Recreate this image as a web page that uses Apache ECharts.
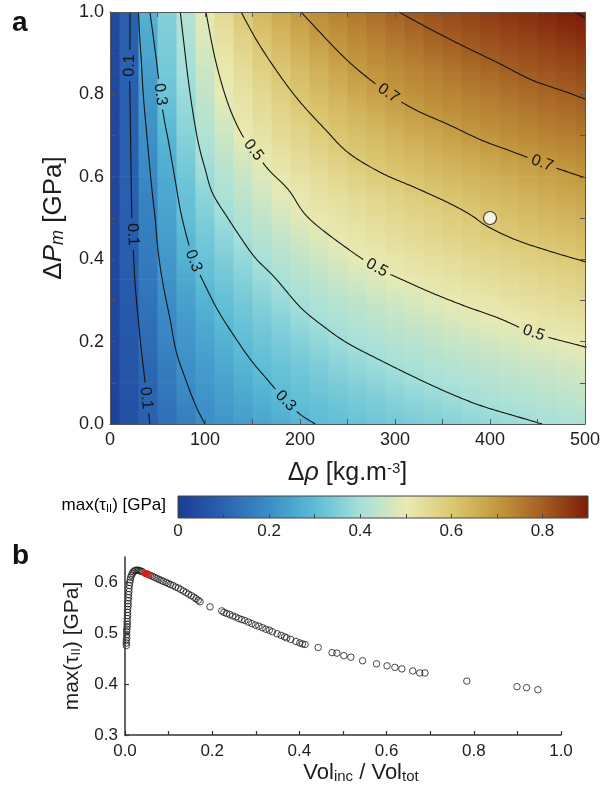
<!DOCTYPE html>
<html>
<head>
<meta charset="utf-8">
<script src="https://cdn.jsdelivr.net/npm/echarts@6/dist/echarts.min.js"></script>
<style>
  html, body { margin: 0; padding: 0; background: #fff; }
  #chart { width: 600px; height: 794px; }
</style>
</head>
<body>
<div id="chart"></div>
<script>
// ---- Panel a: stress field over density contrast and pressure ----
const rhoNodes = [0, 20, 40, 60, 80, 100, 120, 140, 160, 180, 200, 220, 240, 260, 280, 300, 320, 340, 360, 380, 400, 420, 440, 460, 480, 500];
const pressureNodes = [0, 0.05, 0.1, 0.15, 0.2, 0.25, 0.3, 0.35, 0.4, 0.45, 0.5, 0.55, 0.6, 0.65, 0.7, 0.75, 0.8, 0.85, 0.9, 0.95, 1.0];

// max(tau_II) [GPa], one row per pressure node (bottom to top), one column per density node
const tauRows = [
  [0.020,0.058,0.096,0.131,0.166,0.200,0.217,0.234,0.252,0.269,0.286,0.302,0.310,0.318,0.327,0.335,0.344,0.352,0.360,0.369,0.377,0.385,0.394,0.401,0.406,0.410],
  [0.020,0.061,0.102,0.142,0.182,0.211,0.231,0.250,0.270,0.290,0.305,0.315,0.325,0.335,0.345,0.355,0.365,0.375,0.385,0.395,0.403,0.410,0.416,0.422,0.429,0.435],
  [0.025,0.066,0.107,0.153,0.200,0.223,0.245,0.268,0.291,0.307,0.319,0.332,0.344,0.356,0.368,0.380,0.392,0.402,0.409,0.415,0.422,0.429,0.435,0.442,0.448,0.455],
  [0.025,0.069,0.115,0.167,0.209,0.235,0.261,0.287,0.307,0.322,0.336,0.351,0.366,0.380,0.395,0.405,0.412,0.419,0.427,0.434,0.441,0.449,0.456,0.463,0.471,0.478],
  [0.030,0.075,0.125,0.181,0.219,0.249,0.279,0.305,0.323,0.340,0.357,0.375,0.392,0.405,0.413,0.422,0.431,0.439,0.448,0.457,0.465,0.474,0.483,0.491,0.500,0.505],
  [0.030,0.078,0.132,0.191,0.229,0.264,0.298,0.319,0.340,0.360,0.381,0.401,0.411,0.421,0.432,0.442,0.453,0.463,0.474,0.484,0.495,0.503,0.510,0.517,0.523,0.530],
  [0.030,0.080,0.139,0.202,0.242,0.282,0.313,0.336,0.360,0.384,0.404,0.416,0.428,0.440,0.453,0.465,0.477,0.490,0.501,0.509,0.516,0.523,0.531,0.538,0.546,0.553],
  [0.030,0.084,0.148,0.212,0.258,0.303,0.330,0.357,0.384,0.406,0.421,0.436,0.451,0.466,0.481,0.496,0.506,0.514,0.522,0.530,0.538,0.546,0.554,0.562,0.570,0.578],
  [0.030,0.086,0.156,0.222,0.278,0.318,0.348,0.379,0.405,0.423,0.441,0.459,0.477,0.495,0.506,0.515,0.524,0.533,0.542,0.550,0.559,0.568,0.577,0.586,0.595,0.602],
  [0.030,0.088,0.164,0.233,0.294,0.332,0.368,0.402,0.422,0.443,0.463,0.484,0.502,0.513,0.523,0.534,0.544,0.555,0.566,0.576,0.587,0.597,0.605,0.613,0.620,0.627],
  [0.030,0.091,0.171,0.245,0.308,0.350,0.392,0.419,0.442,0.466,0.489,0.506,0.518,0.529,0.540,0.551,0.563,0.574,0.585,0.597,0.606,0.615,0.624,0.632,0.641,0.650],
  [0.030,0.092,0.178,0.254,0.318,0.368,0.409,0.436,0.462,0.488,0.507,0.520,0.533,0.546,0.558,0.571,0.584,0.597,0.607,0.617,0.627,0.636,0.646,0.656,0.665,0.675],
  [0.030,0.094,0.190,0.264,0.329,0.388,0.423,0.452,0.481,0.506,0.523,0.539,0.556,0.573,0.589,0.603,0.613,0.623,0.633,0.643,0.652,0.662,0.672,0.682,0.692,0.700],
  [0.030,0.094,0.200,0.277,0.344,0.404,0.439,0.474,0.505,0.524,0.543,0.562,0.581,0.600,0.611,0.623,0.634,0.646,0.657,0.669,0.680,0.691,0.702,0.710,0.719,0.727],
  [0.030,0.095,0.208,0.292,0.360,0.417,0.458,0.500,0.521,0.543,0.564,0.585,0.604,0.618,0.631,0.645,0.659,0.672,0.686,0.699,0.709,0.718,0.727,0.737,0.746,0.755],
  [0.030,0.097,0.214,0.307,0.373,0.429,0.476,0.512,0.537,0.561,0.585,0.607,0.623,0.639,0.655,0.672,0.688,0.702,0.712,0.722,0.732,0.741,0.751,0.761,0.770,0.780],
  [0.030,0.097,0.228,0.323,0.387,0.442,0.495,0.525,0.553,0.581,0.606,0.626,0.645,0.665,0.685,0.703,0.713,0.724,0.734,0.745,0.755,0.766,0.776,0.787,0.797,0.805],
  [0.035,0.097,0.238,0.332,0.397,0.454,0.506,0.539,0.571,0.602,0.624,0.647,0.669,0.691,0.707,0.720,0.732,0.744,0.757,0.769,0.781,0.794,0.804,0.813,0.821,0.830],
  [0.035,0.097,0.253,0.342,0.406,0.469,0.519,0.557,0.594,0.621,0.646,0.671,0.696,0.712,0.727,0.742,0.756,0.771,0.785,0.800,0.809,0.818,0.826,0.835,0.844,0.853],
  [0.035,0.097,0.264,0.348,0.414,0.483,0.533,0.578,0.614,0.642,0.670,0.699,0.716,0.733,0.750,0.766,0.783,0.800,0.810,0.820,0.830,0.840,0.850,0.860,0.870,0.880],
  [0.035,0.096,0.283,0.356,0.422,0.496,0.551,0.603,0.635,0.667,0.698,0.718,0.738,0.757,0.777,0.796,0.809,0.819,0.830,0.841,0.852,0.862,0.873,0.884,0.895,0.905]
];

// Iso-stress lines [delta rho, delta P]
const contourLevels = [0.1, 0.2, 0.3, 0.4, 0.5, 0.6, 0.7, 0.8, 0.9];
const contour01 = [[21,1.0],[21,0.93],[20.5,0.87],[21,0.80],[21.5,0.72],[22,0.64],[22.5,0.56],[23,0.50],[24,0.45],[25,0.40],[26.4,0.34],[29.5,0.26],[33,0.18],[37,0.10],[39.5,0.05],[42,0.0]];
const contour02 = [[30,1.0],[31,0.95],[33,0.88],[35,0.80],[38,0.72],[42,0.62],[45,0.55],[47.5,0.50],[50.6,0.42],[56,0.337],[63,0.257],[69.6,0.177],[79,0.112],[90,0.046],[100,0.0]];
const contour03 = [[42,1.0],[45,0.95],[49,0.88],[53,0.80],[57,0.74],[62,0.68],[68,0.60],[74,0.52],[79,0.47],[84,0.427],[88,0.396],[100,0.337],[114,0.274],[132,0.209],[149,0.153],[167,0.104],[185,0.056],[201,0.022],[216,0.0]];
const contour04 = [[74,1.0],[78,0.92],[82,0.842],[87,0.76],[93,0.682],[100,0.62],[108,0.56],[124,0.50],[138,0.451],[153,0.403],[174,0.354],[201,0.282],[227,0.233],[251,0.195],[286,0.153],[322,0.112],[357,0.075],[391,0.044],[427,0.019],[455,0.0]];
const contour05 = [[101,1.0],[111,0.883],[124,0.779],[138,0.706],[151,0.665],[167,0.617],[188,0.568],[209,0.50],[251,0.424],[281,0.379],[304,0.354],[339,0.318],[374,0.286],[409,0.257],[446,0.221],[497,0.189],[500,0.187]];
const contour06 = [[138,1.0],[156,0.925],[180,0.842],[201,0.779],[227,0.714],[251,0.658],[286,0.609],[322,0.573],[357,0.536],[380,0.507],[397,0.48],[427,0.447],[462,0.42],[497,0.396],[500,0.394]];
const contour07 = [[201,1.0],[251,0.88],[293,0.803],[322,0.762],[357,0.726],[391,0.689],[427,0.658],[455,0.633],[497,0.60],[500,0.598]];
const contour08 = [[304,1.0],[339,0.956],[374,0.915],[409,0.876],[444,0.835],[480,0.806],[500,0.789]];
const contour09 = [[490,1.0],[500,0.985]];

// Where the level values are written along the lines
const labels01 = [[20.5,0.87],[24,0.46],[38,0.063]];
const labels03 = [[53,0.80],[88,0.396],[185,0.056]];
const labels05 = [[151,0.665],[281,0.379],[446,0.221]];
const labels07 = [[293,0.803],[455,0.633]];

// Reference case
const referenceCase = [[400, 0.5]];

// Colour scale stops for 0, 0.1, ... 0.9 GPa
const colorScale = ['#1b3b95','#2a62b0','#3b8dc6','#5bbcd6','#a5e0da','#e9eab2','#dcc873','#c3993f','#a45e22','#7d1b08'];
const colorMin = 0, colorMax = 0.9;

// ---- Panel b: peak stress against inclusion volume fraction ----
const stressPoints = [
  [0.003,0.476],[0.003,0.481],[0.003,0.486],[0.004,0.491],[0.004,0.497],[0.004,0.503],[0.004,0.508],[0.005,0.513],
  [0.005,0.518],[0.005,0.523],[0.005,0.529],[0.006,0.535],[0.006,0.541],[0.006,0.547],[0.007,0.553],[0.007,0.558],
  [0.007,0.564],[0.008,0.570],[0.008,0.576],[0.009,0.582],[0.009,0.588],[0.010,0.594],[0.011,0.600],[0.012,0.605],
  [0.013,0.610],[0.015,0.614],[0.017,0.618],[0.019,0.621],[0.022,0.623],[0.025,0.624],[0.028,0.624],[0.031,0.624],
  [0.034,0.623],[0.037,0.622],[0.040,0.621],[0.058,0.614],[0.063,0.612],[0.068,0.610],[0.073,0.608],[0.078,0.606],
  [0.083,0.604],[0.088,0.602],[0.094,0.600],[0.099,0.598],[0.104,0.596],[0.110,0.594],[0.116,0.591],[0.122,0.589],
  [0.128,0.586],[0.134,0.583],[0.140,0.580],[0.146,0.577],[0.152,0.574],[0.158,0.571],[0.163,0.568],[0.168,0.565],
  [0.172,0.562],[0.195,0.552],[0.222,0.544],[0.227,0.541],[0.233,0.539],[0.240,0.537],[0.247,0.534],[0.254,0.532],
  [0.261,0.529],[0.268,0.527],[0.275,0.525],[0.283,0.522],[0.291,0.519],[0.299,0.516],[0.307,0.514],[0.315,0.511],
  [0.323,0.508],[0.331,0.506],[0.338,0.503],[0.349,0.499],[0.358,0.496],[0.366,0.493],[0.371,0.491],[0.380,0.488],
  [0.392,0.484],[0.401,0.481],[0.407,0.479],[0.413,0.478],[0.443,0.472],[0.475,0.462],[0.486,0.461],[0.502,0.456],
  [0.518,0.453],[0.545,0.446],[0.577,0.440],[0.601,0.436],[0.619,0.433],[0.635,0.430],[0.660,0.426],[0.676,0.422],
  [0.688,0.422],[0.784,0.406],[0.899,0.395],[0.921,0.393],[0.947,0.389]
];
const highlightPoints = [[0.046,0.618],[0.050,0.617],[0.054,0.615]];

// ---------------------------------------------------------------------
const FONT = '"Liberation Sans", Arial, Helvetica, sans-serif';
const INK = '#1e1e1e';

// colour of a stress value on the shared colour scale
const stressColor = v => echarts.color.lerp(
  Math.min(1, Math.max(0, (v - colorMin) / (colorMax - colorMin))), colorScale);

// One column strip per density node and pressure interval, shaded from its lower to its upper value
const cellData = [];
const halfStep = (rhoNodes[1] - rhoNodes[0]) / 2;
rhoNodes.forEach((rho, j) => {
  for (let i = 0; i < pressureNodes.length - 1; i++) {
    cellData.push([rho, pressureNodes[i], pressureNodes[i + 1], tauRows[i][j], tauRows[i + 1][j]]);
  }
});

function renderCell(params, api) {
  const rho = api.value(0);
  const lo = api.coord([rho - halfStep, api.value(1)]);
  const hi = api.coord([rho + halfStep, api.value(2)]);
  const cs = params.coordSys;
  const x0 = Math.max(lo[0], cs.x);
  const x1 = Math.min(hi[0] + 0.6, cs.x + cs.width);
  const y0 = Math.max(hi[1] - 0.6, cs.y);
  const y1 = Math.min(lo[1], cs.y + cs.height);
  return { type: 'rect', shape: { x: x0, y: y0, width: x1 - x0, height: y1 - y0 },
    style: { fill: new echarts.graphic.LinearGradient(0, 1, 0, 0, [
      { offset: 0, color: stressColor(api.value(3)) },
      { offset: 1, color: stressColor(api.value(4)) }]) } };
}

const contourSet = [
  { level: contourLevels[0], pts: contour01, labels: labels01 },
  { level: contourLevels[1], pts: contour02, labels: [] },
  { level: contourLevels[2], pts: contour03, labels: labels03 },
  { level: contourLevels[3], pts: contour04, labels: [] },
  { level: contourLevels[4], pts: contour05, labels: labels05 },
  { level: contourLevels[5], pts: contour06, labels: [] },
  { level: contourLevels[6], pts: contour07, labels: labels07 },
  { level: contourLevels[7], pts: contour08, labels: [] },
  { level: contourLevels[8], pts: contour09, labels: [] }
];

// Catmull-Rom curve through the pixel points, sampled about every 1.5 px
function smoothPath(p) {
  if (p.length < 3) return p.slice();
  const out = [];
  for (let i = 0; i < p.length - 1; i++) {
    const p0 = p[Math.max(0, i - 1)], p1 = p[i], p2 = p[i + 1], p3 = p[Math.min(p.length - 1, i + 2)];
    const n = Math.max(2, Math.ceil(Math.hypot(p2[0] - p1[0], p2[1] - p1[1]) / 1.5));
    for (let k = 0; k < n; k++) {
      const t = k / n, t2 = t * t, t3 = t2 * t;
      const f = (a, b, c, d) => 0.5 * (2 * b + (-a + c) * t + (2 * a - 5 * b + 4 * c - d) * t2 + (-a + 3 * b - 3 * c + d) * t3);
      out.push([f(p0[0], p1[0], p2[0], p3[0]), f(p0[1], p1[1], p2[1], p3[1])]);
    }
  }
  out.push(p[p.length - 1]);
  return out;
}

function renderContour(params, api) {
  const item = contourSet[params.dataIndex];
  const path = smoothPath(item.pts.map(p => api.coord(p)));
  const marks = item.labels.map(p => api.coord(p));
  const gap = 15;
  const children = [];
  let run = [];
  const flush = () => {
    if (run.length > 1) children.push({ type: 'polyline', shape: { points: run },
      style: { stroke: '#141414', lineWidth: 1.1, fill: null } });
    run = [];
  };
  path.forEach(pt => {
    const hidden = marks.some(m => Math.hypot(pt[0] - m[0], pt[1] - m[1]) < gap);
    if (hidden) flush(); else run.push(pt);
  });
  flush();
  marks.forEach(m => {
    let bi = 0, bd = Infinity;
    path.forEach((p, i) => { const d = Math.hypot(p[0] - m[0], p[1] - m[1]); if (d < bd) { bd = d; bi = i; } });
    const a = path[Math.max(0, bi - 8)], b = path[Math.min(path.length - 1, bi + 8)];
    let ang = Math.atan2(b[1] - a[1], b[0] - a[0]);
    if (ang > Math.PI / 2 + 1e-6) ang -= Math.PI;
    if (ang <= -Math.PI / 2) ang += Math.PI;
    children.push({ type: 'text', x: m[0], y: m[1], rotation: -ang,
      style: { text: item.level.toFixed(1), fill: '#141414', font: '16px ' + FONT,
               align: 'center', verticalAlign: 'middle' } });
  });
  return { type: 'group', children };
}

function renderColorBar(params, api) {
  const a = api.coord([colorMin, 0]);
  const b = api.coord([colorMax, 1]);
  const stops = colorScale.map((c, i) => ({ offset: i / (colorScale.length - 1), color: c }));
  return { type: 'rect',
    shape: { x: a[0], y: b[1], width: b[0] - a[0], height: a[1] - b[1] },
    style: { fill: new echarts.graphic.LinearGradient(0, 0, 1, 0, stops), stroke: '#444', lineWidth: 1 } };
}

const tickStyle = { color: '#555', width: 1 };
const labelA = { fontSize: 18, color: INK, fontFamily: FONT };
const labelB = { fontSize: 17, color: INK, fontFamily: FONT };
const labelBar = { fontSize: 17, color: INK, fontFamily: FONT };
const richBase = (size, sub) => ({
  n: { fontSize: size, fontFamily: FONT, color: INK },
  i: { fontSize: size, fontFamily: FONT, color: INK, fontStyle: 'italic' },
  sup: { fontSize: Math.round(size * 0.6), fontFamily: FONT, color: INK, verticalAlign: 'top' },
  sub: { fontSize: Math.round(size * (sub || 0.62)), fontFamily: FONT, color: INK, verticalAlign: 'bottom' },
  isub: { fontSize: Math.round(size * 0.68), fontFamily: FONT, color: INK, fontStyle: 'italic', verticalAlign: 'bottom' }
});

const chart = echarts.init(document.getElementById('chart'), null, { renderer: 'canvas' });

chart.setOption({
  animation: false,
  backgroundColor: '#ffffff',
  grid: [
    { left: 110, top: 12, width: 475, height: 412, outerBoundsMode: 'none' },
    { left: 178, top: 496, width: 410, height: 22, outerBoundsMode: 'none' },
    { left: 125, top: 557, width: 436, height: 178, outerBoundsMode: 'none' }
  ],
  xAxis: [
    { gridIndex: 0, type: 'value', min: 0, max: 500, interval: 100, position: 'bottom', z: 10,
      axisLine: { show: true, onZero: false, lineStyle: tickStyle },
      axisTick: { show: true, inside: true, length: 5, lineStyle: tickStyle },
      minorTick: { show: true, splitNumber: 2, length: 5, lineStyle: tickStyle },
      splitLine: { show: false }, minorSplitLine: { show: false },
      axisLabel: Object.assign({ margin: 7 }, labelA),
      name: '{n|Δ}{i|ρ}{n| [kg.m}{sup|-3}{n|]}', nameLocation: 'middle', nameGap: 37,
      nameTextStyle: { rich: richBase(25) } },
    { gridIndex: 0, type: 'value', min: 0, max: 500, interval: 100, position: 'top', z: 10,
      axisLine: { show: true, onZero: false, lineStyle: tickStyle },
      axisTick: { show: true, inside: true, length: 5, lineStyle: tickStyle },
      minorTick: { show: true, splitNumber: 2, length: 5, lineStyle: tickStyle },
      splitLine: { show: false }, axisLabel: { show: false } },
    { gridIndex: 1, type: 'value', min: colorMin, max: colorMax, interval: 0.1, position: 'bottom', z: 10,
      axisLine: { show: false },
      axisTick: { show: true, inside: true, length: 4, lineStyle: { color: '#444', width: 1 } },
      splitLine: { show: false },
      axisLabel: Object.assign({ margin: 5, showMaxLabel: false,
        formatter: v => (Math.round(v * 10) % 2 === 0 ? (v === 0 ? '0' : v.toFixed(1)) : '') }, labelBar) },
    { gridIndex: 2, type: 'value', min: 0, max: 1, interval: 0.2, position: 'bottom', z: 10,
      axisLine: { show: true, onZero: false, lineStyle: { color: '#333', width: 1.5 } },
      axisTick: { show: true, inside: true, length: 4, lineStyle: { color: '#333', width: 1.2 } },
      minorTick: { show: true, splitNumber: 2, length: 4, lineStyle: { color: '#333', width: 1.2 } },
      splitLine: { show: false },
      axisLabel: Object.assign({ margin: 8, formatter: v => v.toFixed(1) }, labelB),
      name: '{n|Vol}{sub|inc}{n| / Vol}{sub|tot}', nameLocation: 'middle', nameGap: 27,
      nameTextStyle: { padding: [0, 0, 0, 36], rich: richBase(22, 0.68) } }
  ],
  yAxis: [
    { gridIndex: 0, type: 'value', min: 0, max: 1, interval: 0.2, position: 'left', z: 10,
      axisLine: { show: true, onZero: false, lineStyle: tickStyle },
      axisTick: { show: true, inside: true, length: 5, lineStyle: tickStyle },
      minorTick: { show: true, splitNumber: 2, length: 5, lineStyle: tickStyle },
      splitLine: { show: false }, minorSplitLine: { show: false },
      axisLabel: Object.assign({ margin: 6, formatter: v => v.toFixed(1) }, labelA),
      name: '{n|Δ}{i|P}{isub|m}{n| [GPa]}', nameLocation: 'middle', nameGap: 43,
      nameTextStyle: { rich: richBase(26) } },
    { gridIndex: 0, type: 'value', min: 0, max: 1, interval: 0.2, position: 'right', z: 10,
      axisLine: { show: true, onZero: false, lineStyle: tickStyle },
      axisTick: { show: true, inside: true, length: 5, lineStyle: tickStyle },
      minorTick: { show: true, splitNumber: 2, length: 5, lineStyle: tickStyle },
      splitLine: { show: false }, axisLabel: { show: false } },
    { gridIndex: 1, type: 'value', min: 0, max: 1, show: false },
    { gridIndex: 2, type: 'value', min: 0.3, max: 0.65, interval: 0.1, position: 'left', z: 10,
      axisLine: { show: true, onZero: false, lineStyle: { color: '#333', width: 1.5 } },
      axisTick: { show: true, inside: true, length: 4, lineStyle: { color: '#333', width: 1.2 } },
      splitLine: { show: false },
      axisLabel: Object.assign({ margin: 7, showMaxLabel: false, formatter: v => v.toFixed(1) }, labelB),
      name: '{n|max(τ}{sub|II}{n|) [GPa]}', nameLocation: 'middle', nameGap: 42,
      nameTextStyle: { rich: richBase(21) } }
  ],
  graphic: [
    { type: 'text', left: 12, top: 9, style: { text: 'a', font: 'bold 28px ' + FONT, fill: '#111' } },
    { type: 'text', left: 12, top: 542, style: { text: 'b', font: 'bold 28px ' + FONT, fill: '#111' } },
    { type: 'text', right: 600 - 166, top: 497,
      style: { text: '{n|max(τ}{sub|II}{n|) [GPa]}', rich: richBase(17) } }
  ],
  series: [
    { type: 'custom', name: 'stress field', xAxisIndex: 0, yAxisIndex: 0,
      renderItem: renderCell, data: cellData, encode: { x: 0, y: [1, 2] }, silent: true, z: 1 },
    { type: 'custom', name: 'iso-stress', xAxisIndex: 0, yAxisIndex: 0,
      renderItem: renderContour, data: contourSet.map(c => [c.pts[0][0], c.pts[0][1], c.level]),
      encode: { x: 0, y: 1 }, silent: true, z: 3 },
    { type: 'scatter', name: 'reference case', xAxisIndex: 0, yAxisIndex: 0, data: referenceCase,
      symbol: 'circle', symbolSize: 13, z: 5,
      itemStyle: { color: '#ffffff', borderColor: '#1a1a1a', borderWidth: 1.2 } },
    { type: 'custom', name: 'colour bar', xAxisIndex: 2, yAxisIndex: 2,
      renderItem: renderColorBar, data: [[colorMin, 0]], silent: true, z: 1 },
    { type: 'scatter', name: 'models', xAxisIndex: 3, yAxisIndex: 3, data: stressPoints,
      symbol: 'circle', symbolSize: 6.5, z: 3,
      itemStyle: { color: 'rgba(255,255,255,0)', borderColor: '#1a1a1a', borderWidth: 1 } },
    { type: 'scatter', name: 'reference case b', xAxisIndex: 3, yAxisIndex: 3, data: highlightPoints,
      symbol: 'circle', symbolSize: 6.5, z: 4,
      itemStyle: { color: '#d6231e', borderColor: '#c81a16', borderWidth: 1 } }
  ]
});
</script>
</body>
</html>
